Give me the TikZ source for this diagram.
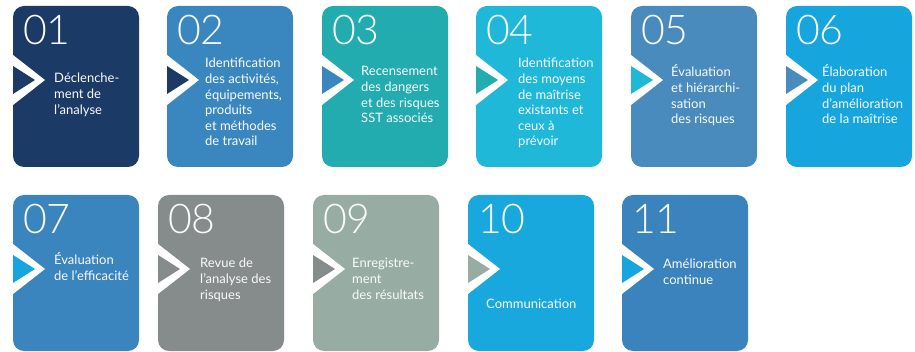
\documentclass[tikz,border=0pt]{standalone}
\usepackage{fontspec}
\setmainfont{Lato}
\newfontfamily\numfont{Lato Light}
\definecolor{cNavy}{HTML}{1B3A66}
\definecolor{cBlue}{HTML}{3A87C0}
\definecolor{cTeal}{HTML}{22ACAF}
\definecolor{cCyan}{HTML}{1FB8D8}
\definecolor{cSteel}{HTML}{4A8BBE}
\definecolor{cSky}{HTML}{16A6DD}
\definecolor{cBlueB}{HTML}{3A85BD}
\definecolor{cGray}{HTML}{868B8C}
\definecolor{cSage}{HTML}{97ADA3}
\definecolor{cSkyB}{HTML}{18A8DE}
\definecolor{cBlueC}{HTML}{3A83BC}
\definecolor{cText}{HTML}{FAFAFA}
\newcommand\stepcard[9]{%
  \fill[#5, cardcorner] (#2,#3) rectangle ({#2+126},#4);
  \fill[white] (#2,{#3+49}) -- ({#2+32},{#3+74}) -- (#2,{#3+99}) -- cycle;
  \fill[#6] (#2,{#3+60}) -- ({#2+22},{#3+74}) -- (#2,{#3+88}) -- cycle;
  \node[numlabel] (#1n) at ({#2+10},{#3+39}) {#7};
  \node[steptext] (#1t) at (#8) {\begin{tabular}[t]{@{}l@{}}#9\end{tabular}};
}
\begin{document}
\begin{tikzpicture}[x=1pt,y=-1pt,
  cardcorner/.style={rounded corners=11pt},
  numlabel/.style={anchor=base west, inner sep=0pt, text=cText, font=\numfont\fontsize{41}{41}\selectfont},
  steptext/.style={anchor=base west, inner sep=0pt, text=cText, font=\fontsize{13}{15.6}\selectfont}]
\useasboundingbox (0,0) rectangle (915,352);
\stepcard{s1}{13}{6}{167}{cNavy}{cNavy}{01}{54,83}{Déclenche-\\ment de\\l’analyse}
\stepcard{s2}{167}{6}{167}{cBlue}{cNavy}{02}{205,68}{Identification\\des activités,\\équipements,\\produits\\et méthodes\\de travail}
\stepcard{s3}{322}{6}{167}{cTeal}{cBlue}{03}{361,76}{Recensement\\des dangers\\et des risques\\SST associés}
\stepcard{s4}{476}{6}{167}{cCyan}{cTeal}{04}{518,68}{Identification\\des moyens\\de maîtrise\\existants et\\ceux à\\prévoir}
\stepcard{s5}{631}{6}{167}{cSteel}{cCyan}{05}{671,77}{Évaluation\\et hiérarchi-\\sation\\des risques}
\stepcard{s6}{786}{6}{167}{cSky}{cSteel}{06}{822,77}{Élaboration\\du plan\\d’amélioration\\de la maîtrise}
\stepcard{s7}{13}{195}{351}{cBlueB}{cSky}{07}{54,265}{Évaluation\\de l'efficacité}
\stepcard{s8}{158}{195}{351}{cGray}{cGray}{08}{200,268}{Revue de\\l’analyse des\\risques}
\stepcard{s9}{313}{195}{351}{cSage}{cGray}{09}{352,268}{Enregistre-\\ment\\des résultats}
\stepcard{s10}{468}{195}{351}{cSkyB}{cSage}{10}{486,309}{Communication}
\stepcard{s11}{622}{195}{351}{cBlueC}{cSky}{11}{663,269}{Amélioration\\continue}
\end{tikzpicture}
\end{document}
